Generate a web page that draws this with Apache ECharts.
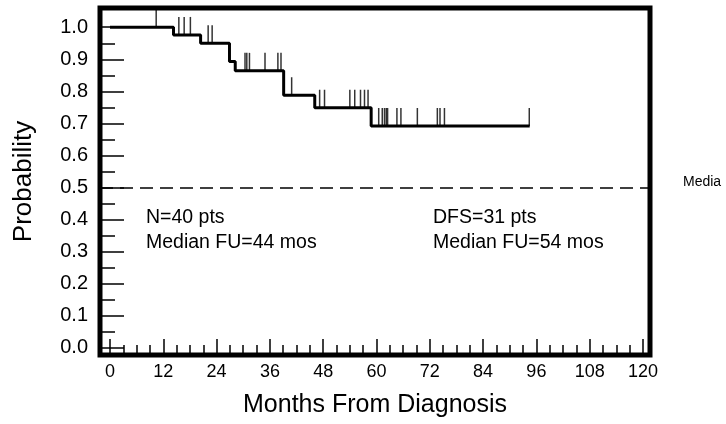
<!DOCTYPE html>
<html>
<head>
<meta charset="utf-8">
<script src="https://cdn.jsdelivr.net/npm/echarts@6/dist/echarts.min.js"></script>
<style>
  html, body { margin: 0; padding: 0; background: #fff; }
  #chart { width: 726px; height: 424px; }
</style>
</head>
<body>
<div id="chart"></div>
<script>
// Kaplan-Meier step curve: event times (months) and survival after each step
const stepTimes = [0, 14.3, 20.4, 26.9, 28.2, 39.1, 46.1, 58.8, 94.5]
const survival = [1.0, 0.976, 0.95, 0.893, 0.864, 0.788, 0.749, 0.692, 0.692]

// censored patients (tick marks on the curve)
const censorTimes = [10.4, 15.5, 16.7, 18.1, 22.1, 23.0, 30.4, 30.8, 31.4, 34.9, 37.8, 38.5,
  40.9, 47.2, 48.3, 54.0, 55.1, 56.4, 57.3, 58.1, 60.5, 61.3, 61.8, 62.2, 62.5, 64.6,
  65.5, 69.2, 73.7, 74.3, 75.3, 94.4]

// axis ticks
const xMajor = [0, 12, 24, 36, 48, 60, 72, 84, 96, 108, 120]
const xMinor = [3, 6, 9, 15, 18, 21, 27, 30, 33, 39, 42, 45, 51, 54, 57, 63, 66, 69, 75, 78, 81,
  87, 90, 93, 99, 102, 105, 111, 114, 117]
const yMajor = [0, 0.1, 0.2, 0.3, 0.4, 0.5, 0.6, 0.7, 0.8, 0.9, 1.0]
const yMinor = [0.05, 0.15, 0.25, 0.35, 0.45, 0.55, 0.65, 0.75, 0.85, 0.95]

const medianLevel = 0.5

const font = 'Liberation Sans, Arial, sans-serif'

// survival at time t
function survivalAt (t) {
  let s = survival[0]
  for (let i = 0; i < stepTimes.length; i++) {
    if (stepTimes[i] <= t) s = survival[i]
  }
  return s
}

const chart = echarts.init(document.getElementById('chart'), null, { renderer: 'canvas' })

const xBase = { type: 'value', position: 'bottom', offset: 0, min: -2.25, max: 121.58, splitLine: { show: false } }
const yBase = { type: 'value', position: 'left', offset: 0, min: -0.022, max: 1.06, splitLine: { show: false } }
const noLine = { show: false, onZero: false }

const option = {
  animation: false,
  backgroundColor: '#fff',
  grid: {
    left: 100, right: 76, top: 8, bottom: 69,
    show: true, borderColor: '#000', borderWidth: 5
  },
  xAxis: [
    Object.assign({}, xBase, {
      name: 'Months From Diagnosis',
      nameLocation: 'middle',
      nameGap: 38,
      nameTextStyle: { fontFamily: font, fontSize: 25, color: '#000' },
      axisLine: noLine,
      axisTick: { inside: true, length: 16, customValues: xMajor, lineStyle: { color: '#000', width: 1.5 } },
      axisLabel: { customValues: xMajor, fontFamily: font, fontSize: 18, color: '#000', margin: 8 }
    }),
    Object.assign({}, xBase, {
      axisLine: noLine,
      axisTick: { inside: true, length: 10, customValues: xMinor, lineStyle: { color: '#000', width: 1.5 } },
      axisLabel: { show: false }
    })
  ],
  yAxis: [
    Object.assign({}, yBase, {
      name: 'Probability',
      nameLocation: 'middle',
      nameRotate: 90,
      nameGap: 63,
      nameTextStyle: { fontFamily: font, fontSize: 26, color: '#000' },
      axisLine: noLine,
      axisTick: { inside: true, length: 24, customValues: yMajor, lineStyle: { color: '#000', width: 1.5 } },
      axisLabel: {
        customValues: yMajor, fontFamily: font, fontSize: 20, color: '#000', margin: 12,
        formatter: v => v.toFixed(1)
      }
    }),
    Object.assign({}, yBase, {
      axisLine: noLine,
      axisTick: { inside: true, length: 15, customValues: yMinor, lineStyle: { color: '#000', width: 1.5 } },
      axisLabel: { show: false }
    })
  ],
  series: [
    {
      type: 'line',
      step: 'end',
      data: stepTimes.map((t, i) => [t, survival[i]]),
      showSymbol: false,
      lineStyle: { color: '#000', width: 3 },
      markLine: {
        silent: true,
        symbol: 'none',
        label: { show: false },
        lineStyle: { color: '#000', width: 1.5, type: [13, 7] },
        data: [{ yAxis: medianLevel }]
      }
    },
    {
      type: 'scatter',
      data: censorTimes.map(t => [t, survivalAt(t)]),
      symbol: 'rect',
      symbolSize: [1.5, 18],
      symbolOffset: [0, '-50%'],
      itemStyle: { color: '#000' }
    }
  ],
  graphic: [
    { type: 'text', left: 146, top: 208, style: { text: 'N=40 pts', font: '19.5px ' + font, fill: '#000' } },
    { type: 'text', left: 146, top: 233, style: { text: 'Median FU=44 mos', font: '19.5px ' + font, fill: '#000' } },
    { type: 'text', left: 433, top: 208, style: { text: 'DFS=31 pts', font: '19.5px ' + font, fill: '#000' } },
    { type: 'text', left: 433, top: 233, style: { text: 'Median FU=54 mos', font: '19.5px ' + font, fill: '#000' } },
    { type: 'text', left: 683, top: 175, style: { text: 'Media', font: '14px ' + font, fill: '#000' } }
  ]
}

chart.setOption(option)
</script>
</body>
</html>
